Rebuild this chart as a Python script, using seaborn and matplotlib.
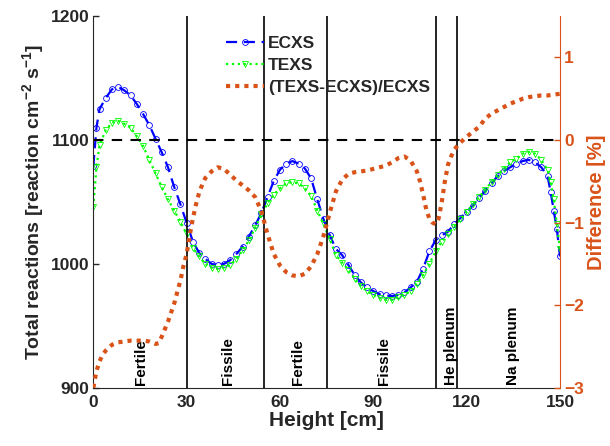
import numpy as np
import pandas as pd
import matplotlib
matplotlib.use('Agg')
import matplotlib.pyplot as plt
import seaborn as sns

# Values
height = [0, 1, 2, 4, 6, 8, 10, 12, 14, 16, 18, 20, 22, 24, 26, 28, 30, 32, 34, 36, 38,
          40, 42, 44, 46, 48, 50, 52, 54, 56, 58, 60, 62, 64, 66, 68, 70, 72, 74, 76, 78,
          80, 82, 84, 86, 88, 90, 92, 94, 96, 98, 100, 102, 104, 106, 108, 110, 112, 114,
          116, 118, 120, 122, 124, 126, 128, 130, 132, 134, 136, 138, 140, 142, 144, 146,
          147, 148, 149, 150]
ecxs = [1079, 1110, 1125, 1134, 1141, 1143, 1140, 1136, 1129, 1121, 1112, 1101, 1090, 1078,
        1062, 1048, 1033, 1018, 1009, 1004, 1000, 999, 1000, 1003, 1008, 1014, 1022, 1031,
        1041, 1054, 1067, 1076, 1081, 1083, 1081, 1077, 1069, 1052, 1036, 1023, 1012, 1007,
        999, 991, 985, 981, 978, 975.5, 974.5, 974, 975, 977, 981, 985.5, 996, 1010, 1019,
        1023, 1026, 1032, 1037, 1042, 1047, 1053, 1059, 1065, 1071, 1075, 1078, 1081, 1083,
        1084, 1082, 1078, 1071, 1058, 1043, 1028, 1006]
texs = [1046, 1078, 1096, 1108, 1114, 1115.5, 1113, 1110, 1103, 1095, 1084, 1073, 1062, 1052,
        1043, 1034, 1024, 1013, 1006, 1000, 997, 996, 997, 999, 1004, 1011, 1019, 1029, 1040,
        1049, 1056, 1061, 1065, 1066, 1065, 1061, 1055, 1043, 1032, 1020, 1007, 1001, 995,
        988, 982, 978, 975, 972.5, 971, 971, 973, 975, 978, 984, 991, 1000, 1010, 1018, 1024,
        1030, 1036, 1042, 1048, 1054, 1060, 1066, 1072, 1077, 1082, 1085, 1089, 1090.5, 1089,
        1084, 1076, 1066, 1052, 1032, 1012]

diff_x = [0, 1, 2, 3, 4, 6, 8, 10, 12, 14, 16, 18, 20, 21, 22, 24, 26, 28, 29, 30, 31, 32, 33,
          34, 35, 36, 38, 40, 42, 44, 46, 48, 50, 52, 54, 56, 58, 60, 62, 64, 66, 68, 70, 72,
          74, 76, 78, 80, 82, 84, 86, 88, 90, 92, 94, 96, 98, 100, 102, 104, 105, 106, 107,
          108, 109, 110, 111, 112, 113, 114, 115, 116, 117, 118, 120, 122, 124, 126, 128, 130,
          132, 134, 136, 138, 140, 142, 144, 146, 148, 150]
diff = [-3.0, -2.8, -2.68, -2.6, -2.55, -2.48, -2.45, -2.44, -2.43, -2.43, -2.43, -2.44, -2.47,
        -2.46, -2.38, -2.2, -1.98, -1.7, -1.52, -1.38, -1.15, -0.95, -0.78, -0.64, -0.54, -0.46,
        -0.38, -0.33, -0.35, -0.42, -0.49, -0.55, -0.61, -0.69, -0.86, -1.14, -1.38, -1.52,
        -1.6, -1.64, -1.65, -1.62, -1.53, -1.38, -1.16, -0.88, -0.62, -0.48, -0.41, -0.39,
        -0.38, -0.37, -0.35, -0.33, -0.31, -0.27, -0.22, -0.2, -0.25, -0.38, -0.5, -0.66,
        -0.84, -0.95, -1.0, -1.02, -0.95, -0.75, -0.5, -0.3, -0.2, -0.12, -0.07, -0.03, 0.04,
        0.1, 0.16, 0.26, 0.32, 0.36, 0.4, 0.44, 0.47, 0.5, 0.52, 0.53, 0.54, 0.54, 0.55, 0.56]

boundaries = [30, 55, 75, 110, 117]
zone_names = ['Fertile', 'Fissile', 'Fertile', 'Fissile', 'He plenum', 'Na plenum']
zone_centres = [15.2, 43.4, 65.8, 93.5, 114.9, 135]

# Styling (MATLAB-like look)
sns.set_style('white')
plt.rcParams['font.family'] = ['Liberation Sans', 'DejaVu Sans']
plt.rcParams['font.weight'] = 'bold'
plt.rcParams['axes.labelweight'] = 'bold'
plt.rcParams['mathtext.fontset'] = 'custom'
plt.rcParams['mathtext.rm'] = 'Liberation Sans:bold'
plt.rcParams['mathtext.bf'] = 'Liberation Sans:bold'
plt.rcParams['mathtext.default'] = 'bf'

orange = '#D95319'
grey = '#262626'

df = pd.DataFrame({'height': height, 'ECXS': ecxs, 'TEXS': texs})
dd = pd.DataFrame({'height': diff_x, 'diff': diff})

fig = plt.figure(figsize=(6.10, 4.46), dpi=100)
ax = fig.add_axes([0.153, 0.1307, 0.765, 0.833])
ax2 = ax.twinx()

sns.lineplot(data=df, x='height', y='ECXS', ax=ax, color='blue', linestyle=(0, (5, 3)), lw=1.6,
             marker='o', markersize=4.2, markerfacecolor='none', markeredgecolor='blue',
             markeredgewidth=0.6, label='ECXS', legend=False)
sns.lineplot(data=df, x='height', y='TEXS', ax=ax, color='#00FF00', linestyle=':', lw=1.6,
             marker='v', markersize=4.2, markerfacecolor='none', markeredgecolor='#00FF00',
             markeredgewidth=0.6, label='TEXS', legend=False)
sns.lineplot(data=dd, x='height', y='diff', ax=ax2, color=orange, linestyle=(0, (1, 1.2)),
             lw=3, label='(TEXS-ECXS)/ECXS', legend=False)

ax.axhline(1100, color='black', linestyle=(0, (5, 4)), lw=1.5)
for b in boundaries:
    ax.axvline(b, color='black', lw=1.2)
for name, xc in zip(zone_names, zone_centres):
    ax.text(xc, 902, name, rotation=90, ha='center', va='bottom', fontsize=11,
            fontweight='bold', color='black')

ax.set_xlim(0, 150)
ax.set_ylim(900, 1200)
ax.set_xticks([0, 30, 60, 90, 120, 150])
ax.set_yticks([900, 1000, 1100, 1200])
ax2.set_ylim(-3, 1.5)
ax2.set_yticks([-3, -2, -1, 0, 1])

ax.set_xlabel('Height [cm]', fontsize=15, color=grey, labelpad=1)
ax.set_ylabel('Total reactions [reaction cm$^{-2}$ s$^{-1}$]', fontsize=14, color=grey,
              labelpad=3)
ax2.set_ylabel('Difference [%]', fontsize=14.5, color=orange, labelpad=2)

for a in (ax, ax2):
    a.spines['top'].set_visible(False)
    a.tick_params(direction='in', length=4, width=1)
ax.tick_params(axis='both', labelsize=12.5, colors=grey)
ax.tick_params(axis='x', pad=5)
ax.tick_params(axis='y', pad=3)
ax2.tick_params(axis='y', labelsize=12.5, colors=orange, pad=3)
ax.spines['left'].set_color(grey)
ax.spines['bottom'].set_color(grey)
ax2.spines['right'].set_color(orange)
ax2.spines['left'].set_visible(False)
ax2.spines['bottom'].set_visible(False)
ax.spines['right'].set_visible(False)
for lab in ax.get_xticklabels() + ax.get_yticklabels() + ax2.get_yticklabels():
    lab.set_fontweight('bold')

h1, l1 = ax.get_legend_handles_labels()
h2, l2 = ax2.get_legend_handles_labels()
leg = ax2.legend(h1 + h2, l1 + l2, loc='upper left', bbox_to_anchor=(0.27, 0.965),
                 frameon=False, fontsize=12.5, handlelength=2.2, handletextpad=0.2,
                 labelspacing=0.4, borderaxespad=0)
for t in leg.get_texts():
    t.set_fontweight('bold')

fig.savefig('out.png', dpi=100)
